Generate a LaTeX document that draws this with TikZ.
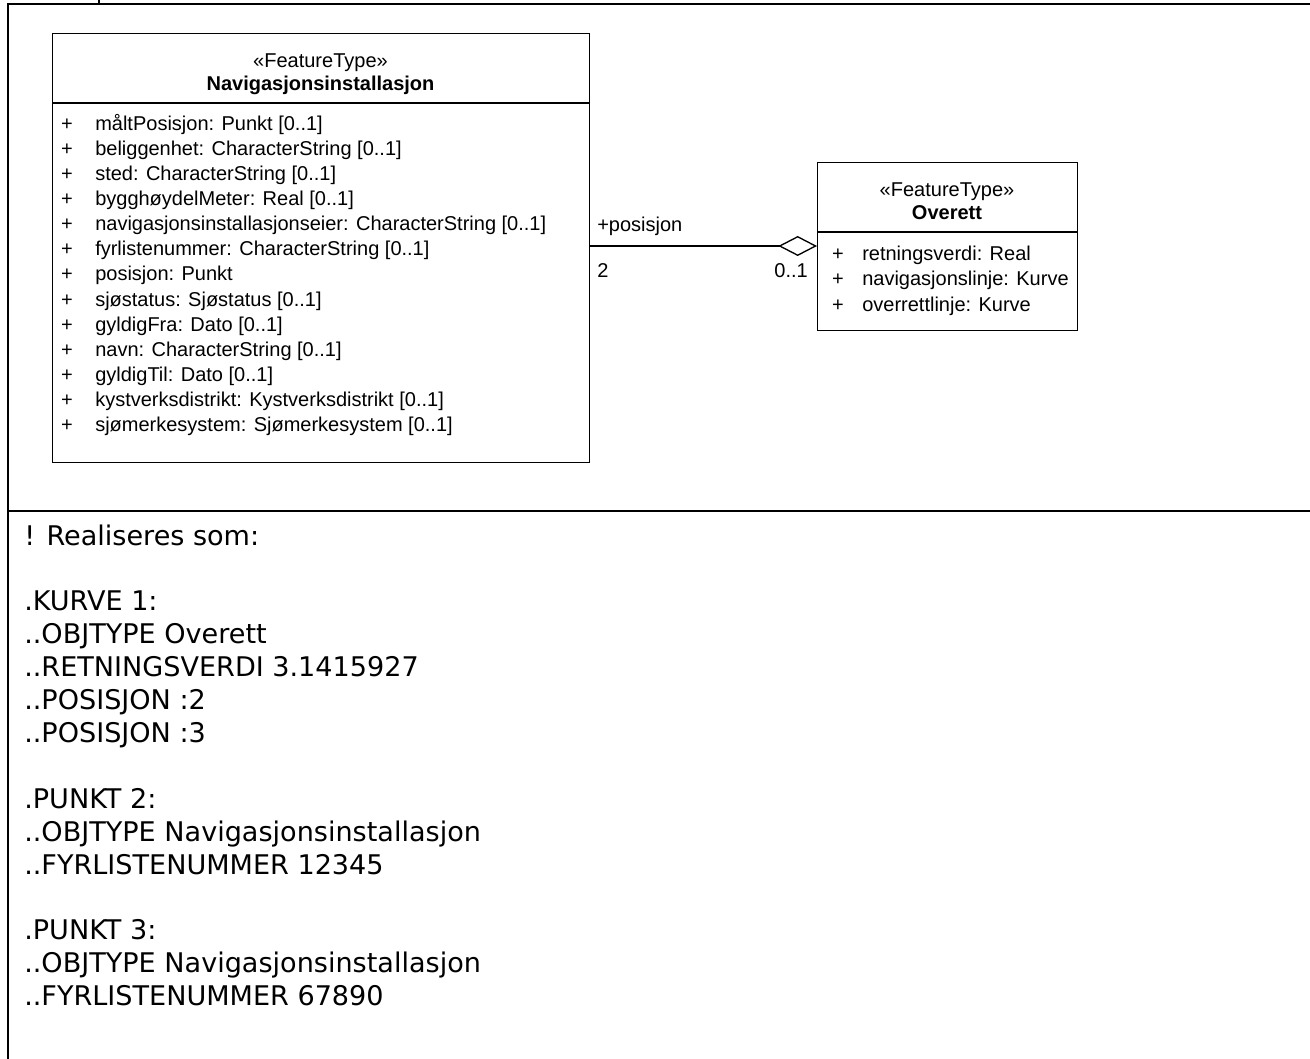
\documentclass[tikz,border=0pt]{standalone}
\usepackage{fontspec}
\setmainfont{Liberation Sans}
\newfontfamily\notefont{DejaVu Sans}
\usetikzlibrary{arrows.meta}

\tikzset{
  frameline/.style={line width=1.9pt, line cap=rect},
  umlbox/.style={draw, line width=1pt, inner sep=0pt, anchor=north west},
  umlsep/.style={line width=1pt},
  umltext/.style={inner sep=0pt, font=\fontsize{15pt}{18pt}\selectfont},
  umlbold/.style={umltext, font=\fontsize{15pt}{18pt}\selectfont\bfseries},
  notetext/.style={inner sep=0pt, anchor=base west, font=\notefont\fontsize{20.3pt}{24pt}\selectfont},
  assoc/.style={line width=1pt},
}

\begin{document}
\begin{tikzpicture}[x=0.75pt, y=-0.75pt]
\useasboundingbox (0,0) rectangle (1310,1059);

% outer table frame
\draw[frameline] (8,1059) -- (8,4) -- (1310,4);
\draw[frameline] (99,0) -- (99,4);
\draw[frameline] (8,511) -- (1310,511);

% class Navigasjonsinstallasjon
\node[umlbox, minimum width=402.75pt, minimum height=321.75pt] (nav) at (52,33) {};
\draw[umlsep] (52,103) -- (589,103);
\node[umltext, anchor=base] (navst) at (320.5,68) {«FeatureType»};
\node[umlbold, anchor=base] (navname) at (320.5,91) {Navigasjonsinstallasjon};
\foreach \t [count=\i from 0] in {%
  måltPosisjon: Punkt [0..1],
  beliggenhet: CharacterString [0..1],
  sted: CharacterString [0..1],
  bygghøydelMeter: Real [0..1],
  navigasjonsinstallasjonseier: CharacterString [0..1],
  fyrlistenummer: CharacterString [0..1],
  posisjon: Punkt,
  sjøstatus: Sjøstatus [0..1],
  gyldigFra: Dato [0..1],
  navn: CharacterString [0..1],
  gyldigTil: Dato [0..1],
  kystverksdistrikt: Kystverksdistrikt [0..1],
  sjømerkesystem: Sjømerkesystem [0..1]} {
  \node[umltext, anchor=base] (navp\i) at (67,131+25*\i) {+};
  \node[umltext, anchor=base west] (nava\i) at (95,131+25*\i) {\t};
}

% class Overett
\node[umlbox, minimum width=195pt, minimum height=126pt] (ov) at (817,162) {};
\draw[umlsep] (817,232) -- (1077,232);
\node[umltext, anchor=base] (ovst) at (947,197) {«FeatureType»};
\node[umlbold, anchor=base] (ovname) at (947,220) {Overett};
\foreach \t [count=\i from 0] in {%
  retningsverdi: Real,
  navigasjonslinje: Kurve,
  overrettlinje: Kurve} {
  \node[umltext, anchor=base] (ovp\i) at (838,261+25*\i) {+};
  \node[umltext, anchor=base west] (ova\i) at (862,261+25*\i) {\t};
}

% aggregation between the two classes
\coordinate (aggstart) at (nav.east |- 0,246);
\coordinate (aggend) at (ov.west |- 0,246);
\draw[assoc, -{Diamond[open, length=29pt, width=15pt, line width=1pt]}] (aggstart) -- (aggend);
\node[umltext, anchor=base west] (rolename) at (597,232) {+posisjon};
\node[umltext, anchor=base west] (multnav) at (597,277) {2};
\node[umltext, anchor=base east] (multov) at (808,277) {0..1};

% realisation notes
\foreach \t [count=\i from 0] in {%
  ! Realiseres som:, {}, .KURVE 1:, ..OBJTYPE Overett, ..RETNINGSVERDI 3.1415927,
  ..POSISJON :2, ..POSISJON :3, {}, .PUNKT 2:, ..OBJTYPE Navigasjonsinstallasjon,
  ..FYRLISTENUMMER 12345, {}, .PUNKT 3:, ..OBJTYPE Navigasjonsinstallasjon,
  ..FYRLISTENUMMER 67890} {
  \node[notetext] (note\i) at (24,545+32.9*\i) {\strut\t};
}
\end{tikzpicture}
\end{document}
